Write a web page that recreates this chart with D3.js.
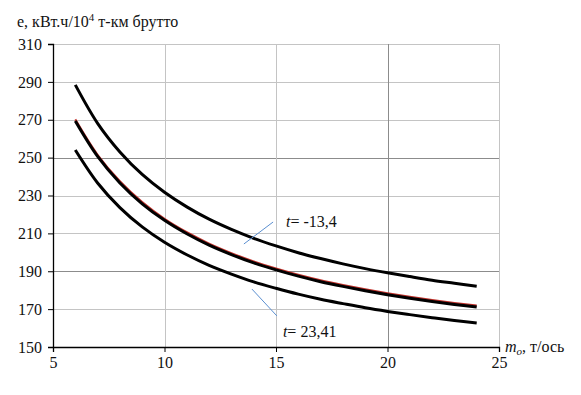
<!DOCTYPE html>
<html>
<head>
<meta charset="utf-8">
<script src="https://cdn.jsdelivr.net/npm/d3@7"></script>
<style>
body { margin: 0; background: #fff; }
text { font-family: "Liberation Serif", "DejaVu Serif", serif; }
</style>
</head>
<body>
<script>
// Data
var mass = [6, 7, 8, 9, 10, 11, 12, 13, 14, 15, 16, 17, 18, 19, 20, 21, 22, 23, 24];
var eCold = [288.4, 268.1, 253.0, 241.1, 231.7, 224.0, 217.5, 212.1, 207.4, 203.4,
             199.8, 196.7, 193.9, 191.4, 189.2, 187.2, 185.3, 183.7, 182.1];
var eMid = [269.3, 250.6, 236.6, 225.6, 216.9, 209.8, 203.8, 198.8, 194.4, 190.7,
            187.4, 184.5, 182.0, 179.7, 177.6, 175.7, 174.0, 172.5, 171.1];
var eFit = [270.2, 251.5, 237.5, 226.5, 217.7, 210.6, 204.6, 199.6, 195.2, 191.5,
            188.2, 185.3, 182.8, 180.5, 178.4, 176.5, 174.8, 173.3, 171.9];
var eWarm = [254.0, 236.6, 223.6, 213.4, 205.3, 198.7, 193.1, 188.5, 184.4, 181.0,
             177.9, 175.2, 172.9, 170.7, 168.8, 167.1, 165.5, 164.0, 162.7];
var xTicks = [5, 10, 15, 20, 25];
var yTicks = [150, 170, 190, 210, 230, 250, 270, 290, 310];

var W = 581, H = 395;
var margin = { top: 44, right: 82, bottom: 48, left: 53 };
var width = W - margin.left - margin.right,
    height = H - margin.top - margin.bottom;

var svg = d3.select("body").append("svg")
    .attr("width", W)
    .attr("height", H);

var g = svg.append("g")
    .attr("transform", "translate(" + margin.left + "," + margin.top + ")");

var x = d3.scaleLinear().domain([5, 25]).range([0, width]);
var y = d3.scaleLinear().domain([150, 310]).range([height, 0]);

// grid
g.selectAll(".hgrid")
    .data(yTicks.filter(function (d) { return d > 150; }))
    .enter().append("line")
    .attr("x1", 0).attr("x2", width)
    .attr("y1", function (d) { return Math.round(y(d)) + 0.5; })
    .attr("y2", function (d) { return Math.round(y(d)) + 0.5; })
    .attr("stroke", function (d) { return (d == 250 || d == 190) ? "#8c8c8c" : "#c4c4c4"; })
    .attr("stroke-width", 1);

g.selectAll(".vgrid")
    .data(xTicks.filter(function (d) { return d > 5; }))
    .enter().append("line")
    .attr("y1", 0).attr("y2", height)
    .attr("x1", function (d) { return Math.round(x(d)) + 0.5; })
    .attr("x2", function (d) { return Math.round(x(d)) + 0.5; })
    .attr("stroke", function (d) { return d == 20 ? "#8c8c8c" : "#c4c4c4"; })
    .attr("stroke-width", 1);

// axes
var xAxis = d3.axisBottom(x).tickValues(xTicks).tickSize(5).tickPadding(5),
    yAxis = d3.axisLeft(y).tickValues(yTicks).tickSize(5).tickPadding(6);

var gx = g.append("g")
    .attr("transform", "translate(0," + height + ")")
    .call(xAxis);
var gy = g.append("g").call(yAxis);

[gx, gy].forEach(function (a) {
    a.attr("font-family", null);
    a.select(".domain").attr("stroke", "#000").attr("stroke-width", 1.3);
    a.selectAll(".tick line").attr("stroke", "#000");
    a.selectAll(".tick text")
        .attr("fill", "#111")
        .style("font-family", "'Liberation Serif', serif")
        .style("font-size", "16px");
});

// curves
var line = d3.line()
    .x(function (d) { return x(d[0]); })
    .y(function (d) { return y(d[1]); })
    .curve(d3.curveCatmullRom);

function pts(vals) {
    return mass.map(function (m, i) { return [m, vals[i]]; });
}

g.append("path").datum(pts(eFit))
    .attr("d", line)
    .attr("fill", "none")
    .attr("stroke", "#c0312b")
    .attr("stroke-width", 2);

[eCold, eMid, eWarm].forEach(function (s) {
    g.append("path").datum(pts(s))
        .attr("d", line)
        .attr("fill", "none")
        .attr("stroke", "#000")
        .attr("stroke-width", 3);
});

// leaders
g.append("line")
    .attr("x1", x(13.56)).attr("y1", y(204.4))
    .attr("x2", x(14.87)).attr("y2", y(216.0))
    .attr("stroke", "#5b8fd0").attr("stroke-width", 1);
g.append("line")
    .attr("x1", x(13.92)).attr("y1", y(180.6))
    .attr("x2", x(15.04)).attr("y2", y(166.4))
    .attr("stroke", "#5b8fd0").attr("stroke-width", 1);

function tLabel(xp, yp, val) {
    var t = g.append("text")
        .attr("x", x(xp)).attr("y", y(yp))
        .style("font-size", "16px")
        .attr("fill", "#111");
    t.append("tspan").style("font-style", "italic").text("t");
    t.append("tspan").text("= " + val);
}
tLabel(15.45, 213.4, "-13,4");
tLabel(15.31, 155.3, "23,41");

// axis titles
var yt = svg.append("text")
    .attr("x", 17).attr("y", 27)
    .style("font-size", "16px")
    .attr("fill", "#111");
yt.append("tspan").text("e, кВт.ч/10");
yt.append("tspan").attr("dy", -6).style("font-size", "11px").text("4");
yt.append("tspan").attr("dy", 6).text(" т-км брутто");

var xt = svg.append("text")
    .attr("x", margin.left + width + 6).attr("y", margin.top + height + 5)
    .style("font-size", "16px")
    .attr("fill", "#111");
xt.append("tspan").style("font-style", "italic").text("m");
xt.append("tspan").style("font-style", "italic").style("font-size", "11px").attr("dy", 3).text("o");
xt.append("tspan").attr("dy", -3).text(", т/ось");
</script>
</body>
</html>
